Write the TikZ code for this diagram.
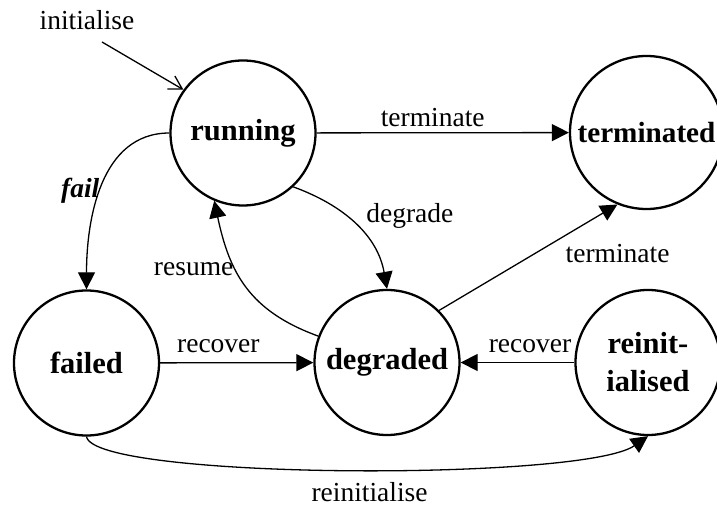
\documentclass[tikz,border=0pt]{standalone}
\usepackage{fontspec}
\setmainfont{Liberation Serif}
\usetikzlibrary{positioning,arrows.meta}

\begin{document}
\begin{tikzpicture}[x=1pt, y=1pt,
  state/.style={circle, draw, line width=2.3pt, minimum size=145pt, inner sep=0pt, align=center, font=\fontsize{30.5}{38}\selectfont\bfseries},
  trans/.style={line width=1.3pt, -{Triangle[length=17pt,width=17pt]}},
  lbl/.style={font=\fontsize{27.5}{30}\selectfont, inner sep=2pt}]
  \useasboundingbox (0,0) rectangle (717,506);
  \node[state] (run) at (243, 373) {running};
  \node[state, minimum size=153pt, font=\fontsize{29.2}{31}\selectfont\bfseries] (term) at (646.5, 373.5) {terminated};
  \node[state] (fail) at (86.5, 143) {failed};
  \node[state] (degr) at (387, 143.5) {degraded};
  \node[state] (reinit) at (648, 143.5) {reinit-\\ialised};
  \node[lbl] (init) at (87, 486) {initialise};
  \coordinate (initstart) at (102, 464);
  \draw[line width=1.3pt, -{Straight Barb[length=13pt,width=15pt]}] (initstart) -- (run.144);
  \draw[trans] (run) -- node[lbl, pos=0.46, anchor=base, yshift=6pt] {terminate} (term);
  \draw[trans] (run.west) to[out=180, in=90] node[lbl, pos=0.53, left, xshift=2pt, font=\fontsize{27.5}{30}\selectfont\bfseries\itshape] {fail} (fail.north);
  \draw[trans] (run.-47) to[out=-20, in=100] node[lbl, pos=0.5, anchor=base west, xshift=8pt, yshift=2pt] {degrade} (degr.north);
  \draw[trans] (degr.159) to[out=160, in=-78, looseness=1.1] node[lbl, pos=0.62, left] {resume} (run.-113);
  \draw[trans] (degr.45) -- node[lbl, pos=0.65, anchor=north west, xshift=8pt] {terminate} (term.248);
  \draw[trans] (fail) -- node[lbl, pos=0.38, anchor=base, yshift=10pt] {recover} (degr);
  \draw[trans] (reinit) -- node[lbl, pos=0.39, anchor=base, yshift=10pt] {recover} (degr);
  \draw[trans] (fail.south) to[out=-80, in=-145, out looseness=0.2, in looseness=0.36] node[lbl, pos=0.53, anchor=base, yshift=-32pt] {reinitialise} (reinit.south);
\end{tikzpicture}
\end{document}
